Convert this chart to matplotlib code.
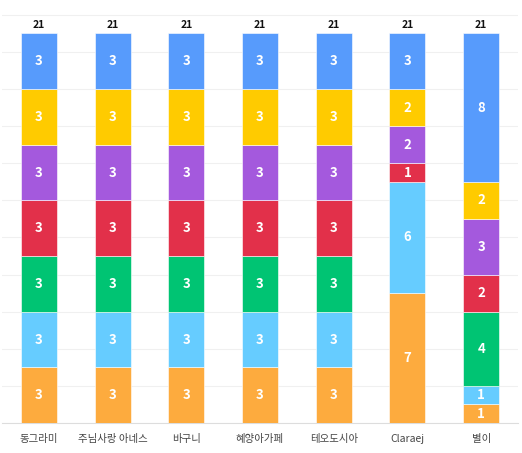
import matplotlib
matplotlib.use("Agg")
import matplotlib.pyplot as plt
import numpy as np

plt.rcParams['font.family'] = ['Noto Sans CJK KR', 'DejaVu Sans']

categories = ['동그라미', '주님사랑 아네스', '바구니', '혜양아가페', '테오도시아', 'Claraej', '별이']
# stacked from bottom to top
orange = [3, 3, 3, 3, 3, 7, 1]
skyblue = [3, 3, 3, 3, 3, 6, 1]
green = [3, 3, 3, 3, 3, 0, 4]
red = [3, 3, 3, 3, 3, 1, 2]
purple = [3, 3, 3, 3, 3, 2, 3]
yellow = [3, 3, 3, 3, 3, 2, 2]
blue = [3, 3, 3, 3, 3, 3, 8]

series = [orange, skyblue, green, red, purple, yellow, blue]
colors = ['#FDAB3E', '#66CCFF', '#00C473', '#E2304A', '#A459DD', '#FFCB00', '#579BFC']

fig = plt.figure(figsize=(5.22, 4.53), dpi=100)
ax = fig.add_axes([2 / 522, 30 / 453, 516 / 522, 410 / 453])

x = np.arange(len(categories))
bottom = np.zeros(len(categories))
for vals, c in zip(series, colors):
    vals = np.array(vals, dtype=float)
    ax.bar(x, vals, 0.49, bottom=bottom, color=c, edgecolor='white', linewidth=0.4, zorder=3)
    for xi, v, b in zip(x, vals, bottom):
        if v > 0:
            ax.text(xi, b + v / 2, '%d' % v, ha='center', va='center', color='white',
                    fontsize=9.5, fontweight='bold', zorder=4)
    bottom += vals

for xi, t in zip(x, bottom):
    ax.text(xi, t + 0.2, '%d' % t, ha='center', va='bottom', color='#111111',
            fontsize=7.5, fontweight='bold')

ax.set_xlim(-0.5, len(categories) - 0.5)
ax.set_ylim(0, 22.1)
ax.set_yticks(np.arange(0, 23, 2))
ax.yaxis.grid(True, color='#f0f0f0', linewidth=0.8, zorder=0)
ax.tick_params(axis='y', length=0, labelleft=False)
ax.tick_params(axis='x', length=0, pad=8, labelsize=7.5, labelcolor='#444444')
ax.set_xticks(x)
ax.set_xticklabels(categories)
for s in ['top', 'right', 'left']:
    ax.spines[s].set_visible(False)
ax.spines['bottom'].set_color('#dddddd')

fig.savefig('out.png', dpi=100)
